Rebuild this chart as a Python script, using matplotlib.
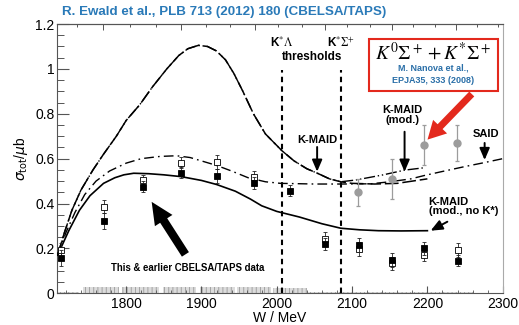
import numpy as np
import matplotlib
matplotlib.use("Agg")
import matplotlib.pyplot as plt
from matplotlib.ticker import MultipleLocator, NullFormatter, FuncFormatter
from matplotlib.patches import Rectangle

plt.rcParams['font.family'] = ['Liberation Sans', 'DejaVu Sans']
plt.rcParams['hatch.linewidth'] = 0.6
plt.rcParams['hatch.color'] = '#9a9a9a'

# ---------------- data ----------------
# CBELSA/TAPS total cross section (this work, filled) and earlier data (open)
w_pts = [1714, 1770, 1822, 1873, 1921, 1970, 2018, 2064, 2109, 2153, 2196, 2240]
sig_new = [0.156, 0.322, 0.475, 0.537, 0.523, 0.492, 0.457, 0.220, 0.215, 0.148, 0.200, 0.145]
err_new = [0.035, 0.035, 0.025, 0.025, 0.030, 0.025, 0.025, 0.025, 0.030, 0.030, 0.030, 0.025]

w_old = [1714, 1770, 1822, 1873, 1921, 1970, 2064, 2109, 2153, 2196, 2240]
sig_old = [0.192, 0.386, 0.505, 0.582, 0.586, 0.517, 0.242, 0.197, 0.134, 0.172, 0.193]
err_old = [0.030, 0.030, 0.020, 0.025, 0.030, 0.030, 0.030, 0.030, 0.030, 0.030, 0.030]

# K0 Sigma+ + K* Sigma+ (Nanova et al.)
w_nan = [2108, 2153, 2195, 2239]
sig_nan = [0.450, 0.509, 0.661, 0.668]
err_nan = [0.060, 0.090, 0.090, 0.080]

# systematic uncertainty bands (bin edges and heights)
sys_lo = [1710, 1743, 1795, 1849, 1898, 1947, 1995, 2040, 2085, 2130, 2175, 2220]
sys_hi = [1737, 1790, 1843, 1893, 1945, 1993, 2040, 2085, 2130, 2175, 2220, 2262]
sys_h = [0.004, 0.028, 0.030, 0.028, 0.030, 0.028, 0.025, 0.006, 0.006, 0.005, 0.006, 0.005]

# model curves
kmaid_w = [1709, 1718, 1728, 1740, 1756, 1770, 1787, 1800, 1818, 1835, 1854, 1870,
           1882, 1896, 1908, 1920, 1932, 1943, 1955, 1969, 1985, 2007, 2023, 2040,
           2054, 2070, 2085, 2100, 2130, 2160, 2200]
kmaid_s = [0.17, 0.27, 0.37, 0.46, 0.55, 0.62, 0.70, 0.77, 0.84, 0.92, 1.00, 1.06,
           1.09, 1.105, 1.10, 1.08, 1.04, 0.98, 0.90, 0.80, 0.71, 0.635, 0.59, 0.555,
           0.535, 0.51, 0.497, 0.490, 0.487, 0.490, 0.510]

kmod_w = [1709, 1718, 1728, 1740, 1756, 1770, 1787, 1800, 1818, 1835, 1854, 1870,
          1882, 1896, 1908, 1920, 1932, 1943, 1955, 1969, 1985, 2007, 2023, 2040,
          2054, 2070, 2085, 2105, 2140, 2170, 2197]
kmod_s = [0.17, 0.27, 0.37, 0.46, 0.55, 0.62, 0.70, 0.77, 0.84, 0.92, 1.00, 1.06,
          1.09, 1.105, 1.10, 1.08, 1.04, 0.98, 0.90, 0.80, 0.71, 0.635, 0.59, 0.555,
          0.535, 0.51, 0.497, 0.505, 0.527, 0.549, 0.560]

said_w = [1709, 1720, 1732, 1745, 1760, 1778, 1800, 1820, 1845, 1867, 1885, 1900,
          1920, 1940, 1962, 1985, 2005, 2050, 2085, 2125, 2150, 2178, 2196, 2220,
          2250, 2275, 2300]
said_s = [0.17, 0.27, 0.36, 0.44, 0.50, 0.545, 0.58, 0.60, 0.61, 0.613, 0.605, 0.59,
          0.57, 0.545, 0.515, 0.497, 0.49, 0.487, 0.487, 0.488, 0.497, 0.51, 0.525, 0.543,
          0.565, 0.582, 0.60]

nokst_w = [1709, 1724, 1738, 1752, 1770, 1785, 1797, 1810, 1830, 1850, 1873, 1900,
           1920, 1945, 1965, 1980, 2000, 2030, 2060, 2085, 2110, 2135, 2165, 2200]
nokst_s = [0.17, 0.28, 0.37, 0.435, 0.49, 0.515, 0.528, 0.535, 0.533, 0.528, 0.52, 0.503,
           0.485, 0.455, 0.42, 0.39, 0.365, 0.34, 0.31, 0.29, 0.283, 0.279, 0.278, 0.279]

# thresholds
thr_w = [2007, 2085]

x_ticks = [1800, 1900, 2000, 2100, 2200, 2300]
y_ticks = [0, 0.2, 0.4, 0.6, 0.8, 1.0, 1.2]

MP = 938.27

# ---------------- figure ----------------
fig = plt.figure(figsize=(5.19, 3.25), dpi=100)
ax = fig.add_axes([0.1104, 0.0975, 0.8582, 0.8286])
ax.set_xlim(1708.6, 2300)
ax.set_ylim(0, 1.2)

# systematic bands
for lo, hi, h in zip(sys_lo, sys_hi, sys_h):
    ax.add_patch(Rectangle((lo, 0), hi - lo, h, facecolor='#dcdcdc',
                           edgecolor='#9a9a9a', hatch='||||', lw=0.0, zorder=1))

# threshold lines
for w in thr_w:
    ax.plot([w, w], [0, 0.995], color='k', lw=1.5, ls=(0, (2.6, 2.0)), zorder=2)

# model curves
ax.plot(said_w, said_s, color='k', lw=1.0, ls=(0, (7, 3, 1.2, 3)), zorder=3)
ax.plot(kmaid_w, kmaid_s, color='k', lw=1.1, ls=(0, (9, 2.5)), zorder=3)
ax.plot(kmod_w, kmod_s, color='k', lw=1.0, ls=(0, (8, 2, 1, 2, 1, 2)), zorder=3)
ax.plot(nokst_w, nokst_s, color='k', lw=1.2, ls='-', zorder=3)

# data
ax.errorbar(w_old, sig_old, yerr=err_old, fmt='s', ms=3.8, mfc='white', mec='k',
            mew=0.6, ecolor='#222222', elinewidth=0.6, capsize=1.2, capthick=0.6, zorder=5)
ax.errorbar(w_pts, sig_new, yerr=err_new, fmt='s', ms=3.8, mfc='k', mec='k',
            mew=0.6, ecolor='#222222', elinewidth=0.6, capsize=1.2, capthick=0.6, zorder=6)
ax.errorbar(w_nan, sig_nan, yerr=err_nan, fmt='o', ms=5, mfc='#9c9c9c', mec='#9c9c9c',
            ecolor='#9c9c9c', elinewidth=0.9, capsize=1.5, capthick=0.9, zorder=6)

# axes styling
ax.set_xticks(x_ticks)
ax.set_yticks(y_ticks)
ax.xaxis.set_minor_locator(MultipleLocator(20))
ax.yaxis.set_minor_locator(MultipleLocator(0.05))
ax.yaxis.set_major_formatter(FuncFormatter(lambda v, p: f'{v:g}'))
ax.tick_params(axis='y', which='major', direction='in', length=8.5, width=0.8,
               color='#555555', labelsize=10, pad=2)
ax.tick_params(axis='y', which='minor', direction='in', length=5, width=0.7, color='#555555')
ax.tick_params(axis='x', which='major', direction='in', length=5, width=0.8,
               color='#555555', labelsize=10, pad=3)
ax.tick_params(axis='x', which='minor', direction='in', length=2.5, width=0.6, color='#555555')
for s in ['left', 'bottom', 'top']:
    ax.spines[s].set_color('#555555')
    ax.spines[s].set_linewidth(0.8)
ax.spines['right'].set_color('#aaaaaa')
ax.spines['right'].set_linewidth(0.8)

# top axis: photon beam energy scale (unlabelled ticks)
sec = ax.secondary_xaxis('top', functions=(lambda w: (np.asarray(w, float)**2 - MP**2) / (2 * MP),
                                            lambda e: np.sqrt(np.clip(MP**2 + 2 * MP * np.asarray(e, float), 0, None))))
sec.xaxis.set_major_locator(MultipleLocator(200))
sec.xaxis.set_minor_locator(MultipleLocator(200 / 3))
sec.xaxis.set_major_formatter(NullFormatter())
sec.tick_params(which='major', direction='in', length=4.5, width=0.7, color='#555555')
sec.tick_params(which='minor', direction='in', length=2.5, width=0.7, color='#555555')
sec.spines['top'].set_color('#555555')
sec.spines['top'].set_linewidth(0.8)

ax.set_xlabel('W / MeV', fontsize=10, labelpad=0)
ax.set_ylabel(r'$\sigma_{\rm tot}$/$\mu$b', fontsize=10, labelpad=4)

# title
fig.text(61.7 / 519, 1 - 12.5 / 325, 'R. Ewald et al., PLB 713 (2012) 180 (CBELSA/TAPS)',
         color='#2a7ab8', fontsize=9.6, fontweight='bold', ha='left', va='center')

# threshold labels
ax.text(2007, 1.118, r'K$^{*}\Lambda$', fontsize=8.5, fontweight='bold', ha='center',
        va='center', math_fontfamily='stix')
ax.text(2084.6, 1.118, r'K$^{*}\Sigma^{+}$', fontsize=8.5, fontweight='bold', ha='center',
        va='center', math_fontfamily='stix')
ax.text(2047, 1.051, 'thresholds', fontsize=8.5, fontweight='bold', ha='center', va='center')

# red framed box
fig.patches.append(Rectangle((369 / 519, 1 - 91 / 325), 129 / 519, 52 / 325,
                             transform=fig.transFigure, facecolor='white',
                             edgecolor='#e3291d', lw=1.5, zorder=8))
fig.text(433.5 / 519, 1 - 52 / 325, r'$K^0\Sigma^+ + K^{*}\Sigma^+$', fontsize=14,
         math_fontfamily='stix', ha='center', va='center', zorder=9)
fig.text(433.5 / 519, 1 - 68.5 / 325, 'M. Nanova et al.,', fontsize=6.5,
         fontweight='bold', color='#2a6fa8', ha='center', va='center', zorder=9)
fig.text(433.5 / 519, 1 - 80.5 / 325, 'EPJA35, 333 (2008)', fontsize=6.5,
         fontweight='bold', color='#2a6fa8', ha='center', va='center', zorder=9)

# red arrow to the Nanova data
ax.annotate('', xy=(2197.6, 0.676), xytext=(2261.5, 0.897),
            arrowprops=dict(arrowstyle='simple,head_length=1.3,head_width=1.4,tail_width=0.5',
                            color='#e3291d', lw=0, mutation_scale=10), zorder=9,
            annotation_clip=False)

# big black arrow to the CBELSA/TAPS data
ax.annotate('', xy=(1831.9, 0.418), xytext=(1880.7, 0.163),
            arrowprops=dict(arrowstyle='simple,head_length=1.6,head_width=1.5,tail_width=0.6',
                            color='k', lw=0, mutation_scale=10), zorder=7)
ax.text(1881.8, 0.115, 'This & earlier CBELSA/TAPS data', fontsize=6.9,
        fontweight='bold', ha='center', va='center')

small = dict(arrowstyle='-|>,head_length=0.7,head_width=0.3', color='k', lw=1.4,
             mutation_scale=10, shrinkA=0, shrinkB=0)

ax.text(2053.6, 0.683, 'K-MAID', fontsize=8, fontweight='bold', ha='center', va='center')
ax.annotate('', xy=(2053.6, 0.542), xytext=(2053.6, 0.652), arrowprops=small)

ax.text(2166.6, 0.794, 'K-MAID\n(mod.)', fontsize=8, fontweight='bold', ha='center',
        va='center', linespacing=0.95)
ax.annotate('', xy=(2169.7, 0.542), xytext=(2169.7, 0.72), arrowprops=small)

ax.text(2277.4, 0.712, 'SAID', fontsize=8, fontweight='bold', ha='center', va='center')
ax.annotate('', xy=(2276, 0.594), xytext=(2276, 0.67), arrowprops=small)

ax.text(2201.6, 0.387, 'K-MAID\n(mod., no K*)', fontsize=8, fontweight='bold', ha='left',
        va='center', linespacing=0.95)
ax.annotate('', xy=(2204.3, 0.279), xytext=(2226.5, 0.319), arrowprops=small)

fig.savefig('out.png', dpi=100)
